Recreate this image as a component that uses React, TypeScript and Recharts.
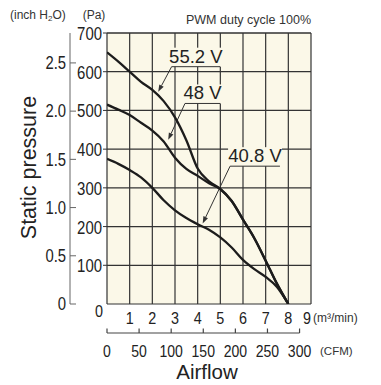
import { LineChart, Line, XAxis, YAxis, CartesianGrid, ReferenceLine, Label } from "recharts";

// airflow in m³/min, static pressure in Pa
const airflow = [0, 0.5, 1, 1.5, 2, 2.5, 3, 3.5, 4, 4.5, 5, 5.5, 6, 6.5, 7, 7.5, 8];
const v552 = [650, 626, 600, 574, 553, 524, 482, 423, 350, 317, 297, 266, 218, 170, 112, 52, 0];
const v48 = [515, 502, 488, 468, 448, 420, 378, 349, 331, 312, 297, 266, 218, 170, 112, 52, 0];
const v408 = [375, 362, 346, 327, 300, 268, 242, 222, 206, 192, 172, 146, 114, 90, 70, 44, 0];

const paTicks = [0, 100, 200, 300, 400, 500, 600, 700];
const inchTicks = [0, 0.5, 1, 1.5, 2, 2.5];
const m3Ticks = [0, 1, 2, 3, 4, 5, 6, 7, 8, 9];
const cfmTicks = [0, 50, 100, 150, 200, 250, 300];

// callouts: text, underline from/to (m³/min), underline height (Pa), arrow tip
const noteText = ["55.2 V", "48 V", "40.8 V"];
const noteFrom = [2.85, 3.44, 5.43];
const noteTo = [4.99, 4.99, 7.63];
const noteY = [613, 518, 356];
const noteTipX = [2.26, 2.7, 4.22];
const noteTipY = [548, 424, 208];

const PA_PER_INCH = 249.089;
const CFM_PER_M3 = 35.3147;
const PLOT_BG = "#fbf8e8";
const INK = "#222";
const FONT = "'Liberation Sans', Arial, Helvetica, sans-serif";

// axis ids sort so that "1" sits next to the plot
const X_M3 = "x1";
const X_CFM = "x2";
const Y_PA = "y1";
const Y_IN = "y2";

const data = airflow.map((a, i) => ({ airflow: a, v552: v552[i], v48: v48[i], v408: v408[i] }));

const numW = (s: string, d: number) => s.split("").reduce((w, c) => w + (c === "." ? 4 : d), 0);

const PaTick = (p: any) => {
  const v = p.payload.value;
  if (v === 0) return <g />;
  const s = String(v);
  return (
    <g>
      <line x1={p.x + 1} y1={p.y} x2={p.x + 5} y2={p.y} stroke="#333" strokeWidth={1} />
      <text x={p.x} y={p.y} dy="0.4em" textAnchor="end" fontSize={17.5} fill={INK} fontFamily={FONT}
        textLength={numW(s, 8.3)} lengthAdjust="spacingAndGlyphs">{s}</text>
    </g>
  );
};

const InchTick = (p: any) => {
  const v = p.payload.value;
  const s = v === 0 ? "0" : v.toFixed(1);
  return (
    <g>
      <line x1={p.x} y1={p.y} x2={p.x + 6} y2={p.y} stroke="#666" strokeWidth={1} />
      <text x={p.x - 4} y={p.y} dy="0.36em" textAnchor="end" fontSize={17.5} fill={INK} fontFamily={FONT}
        textLength={numW(s, 8.3)} lengthAdjust="spacingAndGlyphs">{s}</text>
    </g>
  );
};

const M3Tick = (p: any) => {
  const v = p.payload.value;
  const dx = v === 0 ? -8 : v === 9 ? -4 : 0;
  const dy = v === 0 ? -7 : 0;
  return (
    <text x={p.x + dx} y={p.y + 14 + dy} dy="0.36em" textAnchor="middle" fontSize={17} fill={INK} fontFamily={FONT}
      textLength={numW(String(v), 8)} lengthAdjust="spacingAndGlyphs">{v}</text>
  );
};

const CfmTick = (p: any) => {
  const s = String(p.payload.value);
  return (
    <g>
      <line x1={p.x} y1={p.y} x2={p.x} y2={p.y - 4.5} stroke="#444" strokeWidth={1.2} />
      <text x={p.x} y={p.y + 18} dy="0.36em" textAnchor="middle" fontSize={17} fill={INK} fontFamily={FONT}
        textLength={numW(s, 7.8)} lengthAdjust="spacingAndGlyphs">{s}</text>
    </g>
  );
};

const noteShape = (text: string) => (p: any) => {
  const left = Math.min(p.x1, p.x2);
  const right = Math.max(p.x1, p.x2);
  const y = p.y1;
  return (
    <g>
      <rect x={left - 2} y={y - 19} width={right - left + 4} height={19} fill={PLOT_BG} />
      <text x={(left + right) / 2} y={y - 4} textAnchor="middle" fontSize={18.5} fill={INK} fontFamily={FONT}>{text}</text>
      <line x1={left} y1={y} x2={right} y2={y} stroke="#333" strokeWidth={1} />
    </g>
  );
};

const arrowShape = (p: any) => {
  const { x1, y1, x2, y2 } = p;
  const a = Math.atan2(y2 - y1, x2 - x1);
  const len = 7;
  const w = 2.5;
  const bx = x2 - len * Math.cos(a);
  const by = y2 - len * Math.sin(a);
  const px = -Math.sin(a) * w;
  const py = Math.cos(a) * w;
  return (
    <g>
      <line x1={x1} y1={y1} x2={bx} y2={by} stroke="#333" strokeWidth={1} />
      <polygon points={`${x2},${y2} ${bx + px},${by + py} ${bx - px},${by - py}`} fill="#333" />
    </g>
  );
};

export default function App() {
  const cfmMax = 9 * CFM_PER_M3;
  return (
    <div style={{ position: "absolute", left: 0, top: 0, background: "#fff" }}>
      <LineChart width={381} height={385} data={data} margin={{ top: 33, right: 70, bottom: 22, left: 0 }}>
        <CartesianGrid xAxisId={X_M3} yAxisId={Y_PA} stroke="#333" strokeWidth={1.2} fill={PLOT_BG} fillOpacity={1} />
        <XAxis xAxisId={X_M3} dataKey="airflow" type="number" domain={[0, 9]} allowDataOverflow ticks={m3Ticks} interval={0}
          axisLine={false} tickLine={false} tickSize={0} tickMargin={0} height={29} tick={M3Tick}>
          <Label content={(lp: any) => (
            <text x={lp.viewBox.x + lp.viewBox.width + 2} y={lp.viewBox.y + 14} dy="0.36em" fontSize={12}
              fill="#333" fontFamily={FONT}>(m³/min)</text>
          )} />
        </XAxis>
        <XAxis xAxisId={X_CFM} type="number" dataKey={(d: any) => d.airflow * CFM_PER_M3} domain={[0, cfmMax]}
          allowDataOverflow ticks={cfmTicks} interval={0} axisLine={false}
          tickLine={false} tickSize={0} tickMargin={0} height={30} tick={CfmTick}>
          <Label content={(lp: any) => {
            const vb = lp.viewBox;
            // the scale line stops at 300 CFM
            const end = vb.x + (300 / cfmMax) * vb.width;
            return (
              <g>
                <line x1={vb.x} y1={vb.y} x2={end} y2={vb.y} stroke="#444" strokeWidth={1.2} />
                <text x={vb.x + vb.width + 9} y={vb.y + 18} dy="0.36em" fontSize={11.5}
                  fill="#333" fontFamily={FONT}>(CFM)</text>
                <text x={vb.x + vb.width / 2 - 2} y={vb.y + vb.height + 9} dy="0.36em"
                  textAnchor="middle" fontSize={20.5} fill={INK} fontFamily={FONT}>Airflow</text>
              </g>
            );
          }} />
        </XAxis>
        <YAxis yAxisId={Y_PA} type="number" domain={[0, 700]} allowDataOverflow ticks={paTicks} interval={0} width={37}
          axisLine={false} tickLine={false} tickSize={4} tickMargin={1} tick={PaTick}>
          <Label content={(lp: any) => (
            <text x={lp.viewBox.x + 24} y={lp.viewBox.y - 18} dy="0.36em" textAnchor="middle" fontSize={12}
              fill="#333" fontFamily={FONT}>(Pa)</text>
          )} />
        </YAxis>
        <YAxis yAxisId={Y_IN} type="number" dataKey={(d: any) => d.v552 / PA_PER_INCH} domain={[0, 700 / PA_PER_INCH]}
          allowDataOverflow ticks={inchTicks} interval={0} width={70}
          axisLine={{ stroke: "#666" }} tickLine={false} tickSize={0} tickMargin={0} tick={InchTick}>
          <Label content={(lp: any) => {
            const cx = lp.viewBox.x + 28;
            const cy = lp.viewBox.y + lp.viewBox.height / 2 - 1;
            return (
              <g>
                <text x={lp.viewBox.x + 10} y={lp.viewBox.y - 18} dy="0.36em" fontSize={12} fill="#333" fontFamily={FONT}>
                  (inch H<tspan fontSize={8} dy={2}>2</tspan><tspan dy={-2}>O)</tspan>
                </text>
                <text x={cx} y={cy} dy="0.36em" textAnchor="middle" fontSize={21.5} fill={INK} fontFamily={FONT}
                  transform={`rotate(-90 ${cx} ${cy})`}>Static pressure</text>
              </g>
            );
          }} />
        </YAxis>
        <ReferenceLine xAxisId={X_M3} yAxisId={Y_PA} y={700} stroke="#333" strokeWidth={1.2}>
          <Label content={(lp: any) => (
            <text x={lp.viewBox.x + lp.viewBox.width} y={lp.viewBox.y - 14} dy="0.36em" textAnchor="end" fontSize={12.5}
              fill="#333" fontFamily={FONT}>PWM duty cycle 100%</text>
          )} />
        </ReferenceLine>
        {noteText.map((t, i) => (
          <ReferenceLine key={"u" + i} xAxisId={X_M3} yAxisId={Y_PA} ifOverflow="visible"
            segment={[{ x: noteFrom[i], y: noteY[i] }, { x: noteTo[i], y: noteY[i] }]} shape={noteShape(t)} />
        ))}
        {noteText.map((t, i) => (
          <ReferenceLine key={"a" + i} xAxisId={X_M3} yAxisId={Y_PA} ifOverflow="visible"
            segment={[{ x: noteFrom[i], y: noteY[i] }, { x: noteTipX[i], y: noteTipY[i] }]} shape={arrowShape} />
        ))}
        <Line xAxisId={X_M3} yAxisId={Y_PA} dataKey="v552" type="monotone" stroke="#1c1c1c" strokeWidth={2.3} dot={false} isAnimationActive={false} />
        <Line xAxisId={X_M3} yAxisId={Y_PA} dataKey="v48" type="monotone" stroke="#1c1c1c" strokeWidth={2.3} dot={false} isAnimationActive={false} />
        <Line xAxisId={X_M3} yAxisId={Y_PA} dataKey="v408" type="monotone" stroke="#1c1c1c" strokeWidth={2.3} dot={false} isAnimationActive={false} />
      </LineChart>
    </div>
  );
}
